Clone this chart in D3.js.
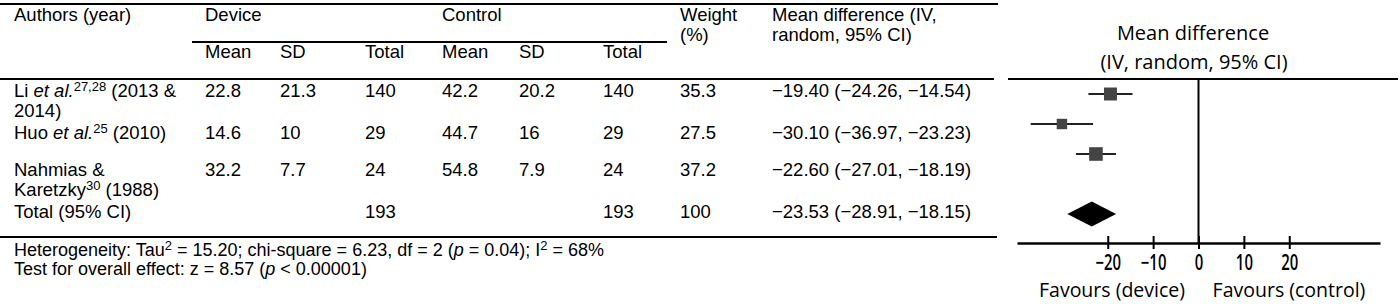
<!DOCTYPE html>
<html>
<head>
<meta charset="utf-8">
<script src="https://d3js.org/d3.v7.min.js"></script>
<style>
  body { margin: 0; background: #fff; }
  .tbl text { font-family: "Liberation Sans", Arial, sans-serif; font-size: 18.5px; fill: #000; }
  .fp text { font-family: "Open Sans", sans-serif; fill: #000; }
</style>
</head>
<body>
<svg id="chart" width="1400" height="304"></svg>
<script>
// ---- data ----
const authors = [
  [[{t: "Li "}, {t: "et al.", i: 1}, {t: "27,28", sup: 1}, {t: " (2013 &"}], [{t: "2014)"}]],
  [[{t: "Huo "}, {t: "et al.", i: 1}, {t: "25", sup: 1}, {t: " (2010)"}]],
  [[{t: "Nahmias &"}], [{t: "Karetzky"}, {t: "30", sup: 1}, {t: " (1988)"}]]
];
const devMean = ["22.8", "14.6", "32.2"];
const devSD = ["21.3", "10", "7.7"];
const devN = [140, 29, 24];
const ctlMean = ["42.2", "44.7", "54.8"];
const ctlSD = ["20.2", "16", "7.9"];
const ctlN = [140, 29, 24];
const weight = [35.3, 27.5, 37.2];
const md = [-19.40, -30.10, -22.60];
const ciLow = [-24.26, -36.97, -27.01];
const ciHigh = [-14.54, -23.23, -18.19];
const total = {label: "Total (95% CI)", devN: 193, ctlN: 193, weight: 100, md: -23.53, lo: -28.91, hi: -18.15};
const tickVals = [-20, -10, 0, 10, 20];
const footnotes = [
  [{t: "Heterogeneity: Tau"}, {t: "2", sup: 1}, {t: " = 15.20; chi-square = 6.23, df = 2 ("}, {t: "p", i: 1}, {t: " = 0.04); I"}, {t: "2", sup: 1}, {t: " = 68%"}],
  [{t: "Test for overall effect: z = 8.57 ("}, {t: "p", i: 1}, {t: " < 0.00001)"}]
];

const svg = d3.select("#chart");
const fmt2 = d => d3.format(".2f")(d).replace("-", "\u2212");
const mdText = (m, l, h) => fmt2(m) + " (" + fmt2(l) + ", " + fmt2(h) + ")";

// text made of plain / italic / superscript pieces
function rich(sel, parts) {
  parts.forEach((p, k) => {
    const ts = sel.append("tspan").text(p.t);
    if (p.i) ts.attr("font-style", "italic");
    if (p.sup) ts.attr("font-size", "13px").attr("dy", -6);
    else if (k > 0 && parts[k - 1].sup) ts.attr("dy", 6);
  });
}

// ---- table ----
const tbl = svg.append("g").attr("class", "tbl");
const colX = [14, 205, 280, 365, 442, 519, 603, 680, 772];
const rowY = [97, 139, 176];
const totalY = 218;

function rule(x1, x2, y) {
  tbl.append("line").attr("x1", x1).attr("x2", x2).attr("y1", y).attr("y2", y)
    .attr("stroke", "#000").attr("stroke-width", 2);
}
rule(0, 998, 4);
rule(192, 667, 42);
rule(0, 994, 79);
rule(0, 997, 237);

const put = (x, y, s) => tbl.append("text").attr("x", x).attr("y", y).text(s);
put(colX[0], 21, "Authors (year)");
put(colX[1], 21, "Device");
put(colX[4], 21, "Control");
put(colX[7], 21, "Weight");
put(colX[7], 41, "(%)");
put(colX[8], 21, "Mean difference (IV,");
put(colX[8], 41, "random, 95% CI)");
["Mean", "SD", "Total", "Mean", "SD", "Total"].forEach((s, k) => put(colX[k + 1], 58, s));

authors.forEach((lines, r) => {
  lines.forEach((parts, li) => rich(tbl.append("text").attr("x", colX[0]).attr("y", rowY[r] + li * 20), parts));
  const cells = [devMean[r], devSD[r], devN[r], ctlMean[r], ctlSD[r], ctlN[r], weight[r], mdText(md[r], ciLow[r], ciHigh[r])];
  cells.forEach((c, k) => put(colX[k + 1], rowY[r], c));
});
put(colX[0], totalY, total.label);
put(colX[3], totalY, total.devN);
put(colX[6], totalY, total.ctlN);
put(colX[7], totalY, total.weight);
put(colX[8], totalY, mdText(total.md, total.lo, total.hi));

footnotes.forEach((parts, k) => rich(tbl.append("text").attr("x", colX[0]).attr("y", 256 + k * 19)
  .style("font-size", "18px"), parts));

// ---- forest plot ----
const fp = svg.append("g").attr("class", "fp");
const x = d3.scaleLinear().domain([-40, 40]).range([1017, 1380]);
const y = d3.scaleLinear().domain([0, 4]).range([94, 214]);
const size = d3.scaleLinear().domain([20, 40]).range([8, 14.5]);
const axisY = 243;

fp.append("text").attr("x", 1193).attr("y", 40).attr("text-anchor", "middle")
  .attr("font-size", "20px").text("Mean difference");
fp.append("text").attr("x", 1194).attr("y", 69).attr("text-anchor", "middle")
  .attr("font-size", "20px").text("(IV, random, 95% CI)");

fp.append("line").attr("x1", 1008).attr("x2", 1398).attr("y1", 79).attr("y2", 79)
  .attr("stroke", "#000").attr("stroke-width", 2);
fp.append("line").attr("x1", x(0)).attr("x2", x(0)).attr("y1", 79).attr("y2", axisY)
  .attr("stroke", "#000").attr("stroke-width", 2);

const idx = d3.range(md.length);
fp.selectAll(".ci").data(idx).join("line").attr("class", "ci")
  .attr("x1", i => x(ciLow[i])).attr("x2", i => x(ciHigh[i]))
  .attr("y1", i => y(i)).attr("y2", i => y(i))
  .attr("stroke", "#222").attr("stroke-width", 2);
fp.selectAll(".sq").data(idx).join("rect").attr("class", "sq")
  .attr("x", i => x(md[i]) - size(weight[i]) / 2)
  .attr("y", i => y(i) - size(weight[i]) / 2)
  .attr("width", i => size(weight[i])).attr("height", i => size(weight[i]))
  .attr("fill", "#444");

const dy = y(4);
fp.append("path")
  .attr("d", d3.line()([[x(total.lo), dy], [x(total.md), dy - 12.5], [x(total.hi), dy], [x(total.md), dy + 12.5]]) + "Z")
  .attr("fill", "#000");

const ax = fp.append("g").attr("transform", `translate(0,${axisY})`)
  .call(d3.axisBottom(x).tickValues(tickVals).tickSize(6).tickSizeOuter(0)
    .tickFormat(d => String(d).replace("-", "\u2212")));
ax.select(".domain").attr("stroke", "#000").attr("stroke-width", 2.5);
ax.selectAll(".tick line").attr("stroke", "#000").attr("stroke-width", 2).attr("y1", -7).attr("y2", 6);
ax.selectAll(".tick text").attr("fill", "#000").attr("font-family", "'Open Sans', sans-serif")
  .attr("font-size", "21px").attr("font-weight", 600).attr("y", 27).attr("dy", 0)
  .attr("transform", "scale(0.71,1)");

fp.append("text").attr("x", 1112).attr("y", 297).attr("text-anchor", "middle")
  .attr("font-size", "19.5px").text("Favours (device)");
fp.append("text").attr("x", 1289).attr("y", 297).attr("text-anchor", "middle")
  .attr("font-size", "19.5px").text("Favours (control)");
</script>
</body>
</html>
